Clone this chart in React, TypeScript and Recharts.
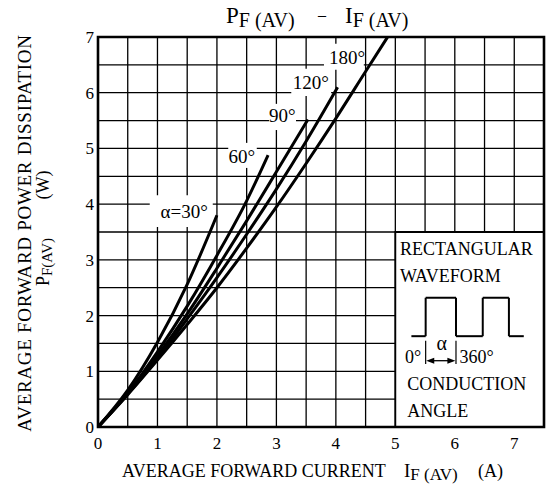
import {
	LineChart,
	Line,
	XAxis,
	YAxis,
	CartesianGrid,
	ReferenceArea,
	ReferenceDot,
	ReferenceLine,
} from "recharts";

const serif = "'Liberation Serif', 'Times New Roman', serif";

// axis ticks (grid every 0.5, labels only on whole numbers)
const xTicks = [0, 0.5, 1, 1.5, 2, 2.5, 3, 3.5, 4, 4.5, 5, 5.5, 6, 6.5, 7, 7.5];
const yTicks = [0, 0.5, 1, 1.5, 2, 2.5, 3, 3.5, 4, 4.5, 5, 5.5, 6, 6.5, 7];

// IF(AV) [A] and PF(AV) [W] for each conduction angle
const i30 = [0, 0.5, 1, 1.5, 2.0];
const p30 = [0, 0.66, 1.52, 2.56, 3.8];
const i60 = [0, 0.5, 1, 1.5, 2, 2.5, 2.86];
const p60 = [0, 0.61, 1.35, 2.17, 3.08, 4.06, 4.88];
const i90 = [0, 0.5, 1, 1.5, 2, 2.5, 3, 3.53];
const p90 = [0, 0.6, 1.28, 2.03, 2.85, 3.7, 4.58, 5.52];
const i120 = [0, 0.5, 1, 1.5, 2, 2.5, 3, 3.5, 4.03];
const p120 = [0, 0.59, 1.23, 1.94, 2.68, 3.46, 4.27, 5.13, 6.1];
const i180 = [0, 0.5, 1, 1.5, 2, 2.5, 3, 3.5, 4, 4.5, 4.87];
const p180 = [0, 0.58, 1.2, 1.84, 2.5, 3.21, 3.95, 4.73, 5.54, 6.38, 7.0];

const series = [
	{ name: "30", i: i30, p: p30 },
	{ name: "60", i: i60, p: p60 },
	{ name: "90", i: i90, p: p90 },
	{ name: "120", i: i120, p: p120 },
	{ name: "180", i: i180, p: p180 },
];

const toRows = (xs: number[], ys: number[]) =>
	xs.map((x, k) => ({ x, y: ys[k] }));

// curve labels, sitting in white patches that break the grid
const curveLabels = [
	{ text: "α=30°", x: 1.45, y: 3.87, box: [0.87, 1.93, 3.59, 4.16] },
	{ text: "60°", x: 2.42, y: 4.85, box: [2.19, 2.67, 4.65, 5.1] },
	{ text: "90°", x: 3.1, y: 5.6, box: [2.88, 3.33, 5.33, 5.8] },
	{ text: "120°", x: 3.58, y: 6.19, box: [3.25, 3.92, 5.94, 6.43] },
	{ text: "180°", x: 4.19, y: 6.64, box: [3.8, 4.47, 6.41, 6.88] },
];

// inset: rectangular waveform sketch
const waveX = [5.27, 5.51, 5.51, 6.02, 6.02, 6.47, 6.47, 6.91, 6.91, 7.16];
const waveY = [1.63, 1.63, 2.32, 2.32, 1.63, 1.63, 2.32, 2.32, 1.63, 1.63];

const insetText = [
	{ text: "RECTANGULAR", x: 5.08, y: 3.2, anchor: "start" },
	{ text: "WAVEFORM", x: 5.08, y: 2.71, anchor: "start" },
	{ text: "CONDUCTION", x: 5.2, y: 0.77, anchor: "start" },
	{ text: "ANGLE", x: 5.2, y: 0.3, anchor: "start" },
	{ text: "0°", x: 5.3, y: 1.26, anchor: "middle" },
	{ text: "α", x: 5.78, y: 1.51, anchor: "middle" },
	{ text: "360°", x: 6.08, y: 1.26, anchor: "start" },
];

const fmtX = (v: number) => (Number.isInteger(v) && v <= 7 ? String(v) : "");
const fmtY = (v: number) => (Number.isInteger(v) ? String(v) : "");

const textShape =
	(text: string, anchor: string, size: number) => (p: any) =>
		(
			<text
				x={p.cx}
				y={p.cy}
				dy="0.35em"
				textAnchor={anchor}
				fontSize={size}
				fontFamily={serif}
				fill="#000"
			>
				{text}
			</text>
		);

const arrowShape = (p: any) => {
	const { x1, y1, x2, y2 } = p;
	return (
		<g>
			<line x1={x1 + 3} y1={y1} x2={x2 - 3} y2={y2} stroke="#000" strokeWidth={1.3} />
			<polygon points={`${x1},${y1} ${x1 + 8},${y1 - 3} ${x1 + 8},${y1 + 3}`} fill="#000" />
			<polygon points={`${x2},${y2} ${x2 - 8},${y2 - 3} ${x2 - 8},${y2 + 3}`} fill="#000" />
		</g>
	);
};

export default function App() {
	return (
		<div
			style={{
				position: "absolute",
				left: 0,
				top: 0,
				width: 546,
				height: 488,
				background: "#fff",
			}}
		>
			<LineChart
				width={546}
				height={488}
				margin={{ top: 37, right: 2, bottom: 31, left: 0 }}
				style={{ fontFamily: serif }}
			>
				<CartesianGrid stroke="#000" strokeWidth={1.3} />
				<XAxis
					type="number"
					dataKey="x"
					domain={[0, 7.5]}
					ticks={xTicks}
					interval={0}
					tickFormatter={fmtX}
					axisLine={false}
					tickLine={false}
					tickSize={0}
					tickMargin={10}
					height={30}
					tick={{ fill: "#000", fontSize: 17, fontFamily: serif }}
				/>
				<YAxis
					type="number"
					dataKey="y"
					domain={[0, 7]}
					ticks={yTicks}
					interval={0}
					tickFormatter={fmtY}
					axisLine={false}
					tickLine={false}
					tickSize={0}
					tickMargin={4}
					width={98}
					tick={{ fill: "#000", fontSize: 17, fontFamily: serif }}
				/>

				{curveLabels.map((l) => (
					<ReferenceArea
						key={"b" + l.text}
						x1={l.box[0]}
						x2={l.box[1]}
						y1={l.box[2]}
						y2={l.box[3]}
						fill="#fff"
						fillOpacity={1}
						stroke="none"
					/>
				))}

				<ReferenceArea
					x1={5}
					x2={7.5}
					y1={0}
					y2={3.5}
					fill="#fff"
					fillOpacity={1}
					stroke="#000"
					strokeWidth={1.8}
				/>

				{series.map((s) => (
					<Line
						key={s.name}
						data={toRows(s.i, s.p)}
						dataKey="y"
						type="monotone"
						stroke="#000"
						strokeWidth={3}
						dot={false}
						isAnimationActive={false}
					/>
				))}

				{waveX.slice(1).map((x, k) => (
					<ReferenceLine
						key={"w" + k}
						segment={[
							{ x: waveX[k], y: waveY[k] },
							{ x, y: waveY[k + 1] },
						]}
						stroke="#000"
						strokeWidth={2}
					/>
				))}
				<ReferenceLine
					segment={[
						{ x: 5.51, y: 1.55 },
						{ x: 5.51, y: 1.13 },
					]}
					stroke="#000"
					strokeWidth={1.2}
				/>
				<ReferenceLine
					segment={[
						{ x: 6.02, y: 1.55 },
						{ x: 6.02, y: 1.13 },
					]}
					stroke="#000"
					strokeWidth={1.2}
				/>
				<ReferenceLine
					segment={[
						{ x: 5.52, y: 1.19 },
						{ x: 6.01, y: 1.19 },
					]}
					shape={arrowShape}
				/>

				{curveLabels.map((l) => (
					<ReferenceDot
						key={"t" + l.text}
						x={l.x}
						y={l.y}
						r={0}
						shape={textShape(l.text, "middle", 19)}
					/>
				))}
				{insetText.map((t) => (
					<ReferenceDot
						key={"i" + t.text}
						x={t.x}
						y={t.y}
						r={0}
						shape={textShape(t.text, t.anchor, t.text === "α" ? 20 : 18)}
					/>
				))}

				<ReferenceArea
					x1={0}
					x2={7.5}
					y1={0}
					y2={7}
					fill="none"
					stroke="#000"
					strokeWidth={2.6}
				/>
			</LineChart>

			<svg
				width={546}
				height={488}
				style={{ position: "absolute", left: 0, top: 0, pointerEvents: "none" }}
				fontFamily={serif}
				fill="#000"
			>
				<text x={226} y={23} fontSize={23}>
					P
					<tspan fontSize={20} dy={4}>
						F (AV)
					</tspan>
				</text>
				<text x={318} y={20} fontSize={16}>
					–
				</text>
				<text x={345} y={23} fontSize={23}>
					I
					<tspan fontSize={20} dy={4}>
						F (AV)
					</tspan>
				</text>

				<text x={122} y={477} fontSize={18}>
					AVERAGE FORWARD CURRENT
				</text>
				<text x={404} y={477} fontSize={19}>
					I
					<tspan fontSize={17} dy={3}>
						F (AV)
					</tspan>
				</text>
				<text x={478} y={477} fontSize={18}>
					(A)
				</text>

				<text
					transform="translate(31, 233) rotate(-90)"
					textAnchor="middle"
					fontSize={19}
					letterSpacing={0.7}
				>
					AVERAGE FORWARD POWER DISSIPATION
				</text>
				<text
					transform="translate(49, 262) rotate(-90)"
					textAnchor="middle"
					fontSize={18}
				>
					P
					<tspan fontSize={15} dy={3}>
						F(AV)
					</tspan>
				</text>
				<text
					transform="translate(49, 185) rotate(-90)"
					textAnchor="middle"
					fontSize={18}
				>
					(W)
				</text>
			</svg>
		</div>
	);
}
